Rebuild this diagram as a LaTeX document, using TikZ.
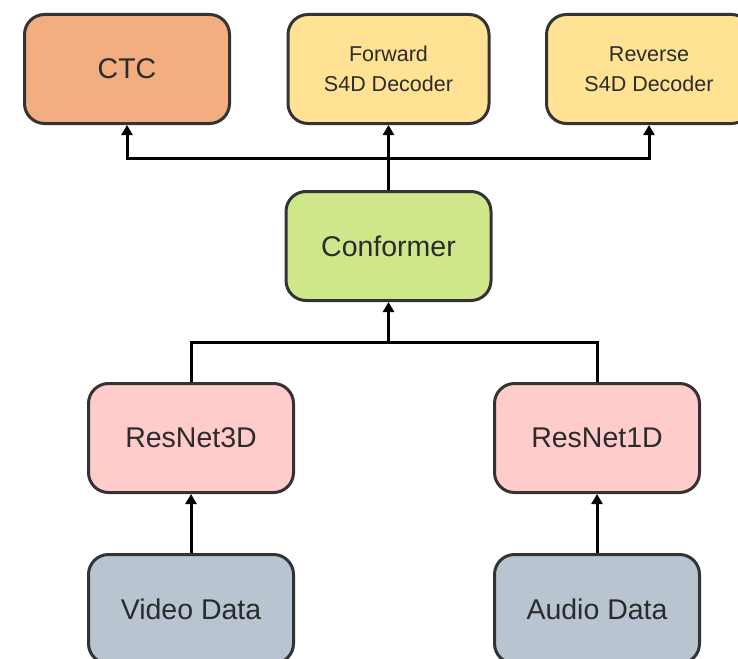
\documentclass[tikz,border=0pt]{standalone}
\usepackage{fontspec}
\setmainfont{Liberation Sans}
\usetikzlibrary{arrows.meta}
\definecolor{ctcfill}{HTML}{F2AE80}
\definecolor{decfill}{HTML}{FFE294}
\definecolor{conffill}{HTML}{CDE78A}
\definecolor{resfill}{HTML}{FFCCCC}
\definecolor{datafill}{HTML}{B8C4D0}
\definecolor{edge}{HTML}{333333}
\definecolor{txt}{HTML}{2B2B2B}
\tikzset{
  blk/.style={draw=edge, line width=3pt, rounded corners=20pt, minimum width=205pt, minimum height=109pt,
    inner sep=0pt, align=center, text=txt, font=\fontsize{28.5}{30}\selectfont},
  small/.style={font=\fontsize{21.5}{30}\selectfont},
  conn/.style={line width=3pt, draw=black},
  arr/.style={conn, -{Triangle[length=10pt,width=11pt]}}
}
\begin{document}
\begin{tikzpicture}[x=1pt,y=-1pt]
\useasboundingbox (0,0) rectangle (738,658);
\fill[white] (0,0) rectangle (738,658);
\clip (0,0) rectangle (738,658);
\node[blk, fill=ctcfill] (ctc) at (127,69) {CTC};
\node[blk, fill=decfill, small, minimum width=201pt] (fwd) at (388.5,69) {Forward\\S4D Decoder};
\node[blk, fill=decfill, small] (rev) at (649,69) {Reverse\\S4D Decoder};
\node[blk, fill=conffill] (conf) at (388.5,246) {Conformer};
\node[blk, fill=resfill] (r3) at (191,438) {ResNet3D};
\node[blk, fill=resfill] (r1) at (597,438) {ResNet1D};
\node[blk, fill=datafill] (vid) at (191,609) {Video Data};
\node[blk, fill=datafill] (aud) at (597,609) {Audio Data};
\coordinate (b1) at (388.5,158);
\coordinate (b2) at (388.5,342);
\draw[conn] (conf.north) -- (b1);
\draw[arr] (b1) -| (ctc.south);
\draw[arr] (b1) -| (rev.south);
\draw[arr] (b1) -- (fwd.south);
\draw[conn] (r3.north) |- (b2) -| (r1.north);
\draw[arr] (b2) -- (conf.south);
\draw[arr] (vid.north) -- (r3.south);
\draw[arr] (aud.north) -- (r1.south);
\end{tikzpicture}
\end{document}
